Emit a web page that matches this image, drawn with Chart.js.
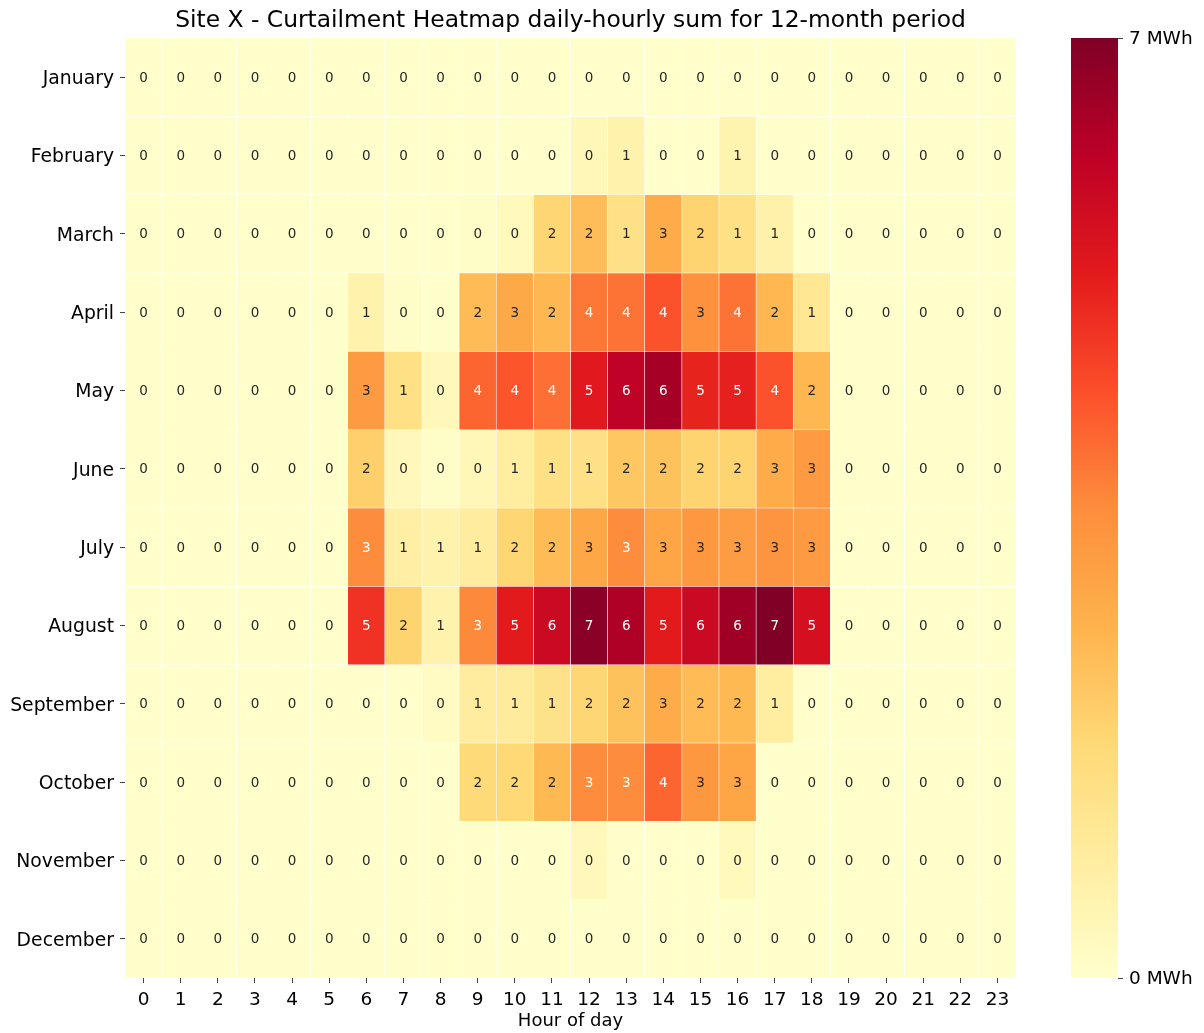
<!DOCTYPE html>
<html>
<head>
<meta charset="utf-8">
<script src="https://cdn.jsdelivr.net/npm/chart.js@4.4.1/dist/chart.umd.min.js"></script>
<style>
  html, body { margin: 0; padding: 0; background: #ffffff; }
  #wrap { position: relative; width: 1204px; height: 1033px; }
  #heat { position: absolute; left: 0; top: 0; }
  #cbar { position: absolute; left: 1040px; top: 0; }
</style>
</head>
<body>
<div id="wrap">
  <canvas id="heat" width="1204" height="1033"></canvas>
  <canvas id="cbar" width="164" height="1033"></canvas>
</div>
<script>
// ---------------- DATA ----------------
const TITLE = 'Site X - Curtailment Heatmap daily-hourly sum for 12-month period';
const X_TITLE = 'Hour of day';
const hours = ['0','1','2','3','4','5','6','7','8','9','10','11','12','13','14','15','16','17','18','19','20','21','22','23'];
const months = ['January','February','March','April','May','June','July','August','September','October','November','December'];
const UNIT = 'MWh';
const vmin = 0;
const vmax = 6.8;

const january   = [0,0,0,0,0,0, 0,0,0,0,0,0,0,0,0,0,0,0,0, 0,0,0,0,0];
const february  = [0,0,0,0,0,0, 0,0,0,0,0,0,0.4,0.6,0,0,0.55,0,0, 0,0,0,0,0];
const march     = [0,0,0,0,0,0, 0,0,0,0.1,0.3,1.75,2.3,1.35,2.7,1.8,1.4,0.65,0, 0,0,0,0,0];
const april     = [0,0,0,0,0,0, 0.6,0.1,0,2.35,2.75,2.45,3.7,3.75,4.2,3.3,3.75,2.45,1.1, 0,0,0,0,0];
const may       = [0,0,0,0,0,0, 3.1,1.4,0.35,3.95,4.15,3.8,5.15,5.9,6.25,4.95,5.0,4.2,2.45, 0,0,0,0,0];
const june      = [0,0,0,0,0,0, 1.9,0.35,0.1,0.4,0.85,1.4,1.35,2.1,2.2,1.8,1.8,2.7,3.1, 0,0,0,0,0];
const july      = [0,0,0,0,0,0, 3.4,0.75,0.6,0.9,1.75,2.35,2.8,3.42,2.85,3.15,3.05,3.25,3.1, 0,0,0,0,0];
const august    = [0,0,0,0,0,0, 4.7,1.8,0.6,3.45,5.1,5.65,6.65,6.15,5.1,5.65,6.35,6.8,5.45, 0,0,0,0,0];
const september = [0,0,0,0,0,0, 0,0,0.2,0.9,0.95,1.3,1.75,2.2,2.7,2.35,2.4,0.85,0, 0,0,0,0,0];
const october   = [0,0,0,0,0,0, 0,0,0,1.65,1.7,2.4,3.42,3.4,3.95,3.15,2.85,0,0, 0,0,0,0,0];
const november  = [0,0,0,0,0,0, 0,0,0,0,0,0,0.35,0,0,0,0.3,0,0, 0,0,0,0,0];
const december  = [0,0,0,0,0,0, 0,0,0,0,0,0,0,0,0,0,0,0,0, 0,0,0,0,0];
const rows = [january,february,march,april,may,june,july,august,september,october,november,december];

// ---------------- COLORMAP (YlOrRd) ----------------
const stops = [[255,255,204],[255,237,160],[254,217,118],[254,178,76],[253,141,60],[252,78,42],[227,26,28],[189,0,38],[128,0,38]];
function cmapRGB(t) {
  t = Math.max(0, Math.min(1, t));
  const p = t * (stops.length - 1);
  const i = Math.min(Math.floor(p), stops.length - 2);
  const f = p - i;
  const a = stops[i], b = stops[i + 1];
  return [0,1,2].map(k => a[k] + (b[k] - a[k]) * f);
}
function cmap(t) { const c = cmapRGB(t); return `rgb(${c[0].toFixed(0)},${c[1].toFixed(0)},${c[2].toFixed(0)})`; }
function lum(c) {
  const l = c.map(v => { v /= 255; return v <= 0.03928 ? v / 12.92 : Math.pow((v + 0.055) / 1.055, 2.4); });
  return 0.2126 * l[0] + 0.7152 * l[1] + 0.0722 * l[2];
}
const norm = v => (v - vmin) / (vmax - vmin);

const FONT = "'DejaVu Sans', sans-serif";
const TICK_COLOR = '#444';

// ---------------- HEATMAP ----------------
const datasets = rows.map((vals, m) => ({
  label: months[m],
  data: vals.map(() => [m, m + 1]),
  values: vals,
  backgroundColor: ctx => cmap(norm(vals[ctx.dataIndex])),
  borderColor: 'rgba(255,255,255,0.55)',
  borderWidth: 0.6,
  borderSkipped: false,
  grouped: false,
  barPercentage: 1,
  categoryPercentage: 1
}));

const annotate = {
  id: 'annotate',
  afterDatasetsDraw(chart) {
    const ctx = chart.ctx;
    ctx.save();
    ctx.font = `13.5px ${FONT}`;
    ctx.textAlign = 'center';
    ctx.textBaseline = 'middle';
    chart.data.datasets.forEach((ds, di) => {
      const meta = chart.getDatasetMeta(di);
      meta.data.forEach((el, i) => {
        const v = ds.values[i];
        const c = cmapRGB(norm(v));
        ctx.fillStyle = lum(c) > 0.408 ? '#262626' : '#ffffff';
        ctx.fillText(String(Math.round(v)), el.x, (el.y + el.base) / 2 + 1);
      });
    });
    ctx.restore();
  }
};

const titlePlugin = {
  id: 'titleText',
  afterDraw(chart) {
    const ctx = chart.ctx, a = chart.chartArea;
    ctx.save();
    ctx.font = `23.4px ${FONT}`;
    ctx.fillStyle = '#000';
    ctx.textAlign = 'center';
    ctx.textBaseline = 'middle';
    ctx.fillText(TITLE, (a.left + a.right) / 2, 21);
    ctx.restore();
  }
};

new Chart(document.getElementById('heat'), {
  type: 'bar',
  data: { labels: hours, datasets },
  options: {
    responsive: false,
    animation: false,
    devicePixelRatio: 1,
    layout: { padding: { left: 0, right: 188, top: 38, bottom: 0 } },
    plugins: { legend: { display: false }, tooltip: { enabled: false }, title: { display: false } },
    scales: {
      x: {
        type: 'category',
        offset: true,
        grid: { display: true, offset: false, drawOnChartArea: false, drawTicks: true, tickLength: 5, color: TICK_COLOR, lineWidth: 1 },
        border: { display: false },
        ticks: { color: '#000', font: { family: FONT, size: 18.5 }, maxRotation: 0, autoSkip: false, padding: 6 },
        title: { display: true, text: X_TITLE, color: '#000', font: { family: FONT, size: 18 }, padding: { top: 0, bottom: 1 } },
        afterFit: s => { s.height = 55; }
      },
      y: {
        type: 'linear',
        min: 0, max: months.length,
        reverse: true,
        afterBuildTicks: s => { s.ticks = months.map((_, i) => ({ value: i + 0.5 })); },
        grid: { display: true, drawOnChartArea: false, drawTicks: true, tickLength: 5, color: TICK_COLOR, lineWidth: 1 },
        border: { display: false },
        ticks: { color: '#000', font: { family: FONT, size: 18.8 }, autoSkip: false, padding: 6, labelOffset: 2,
                 callback: (v, i) => months[i] },
        afterFit: s => { s.width = 125; }
      }
    }
  },
  plugins: [annotate, titlePlugin]
});

// ---------------- COLORBAR ----------------
new Chart(document.getElementById('cbar'), {
  type: 'bar',
  data: {
    labels: [''],
    datasets: [{
      data: [[vmin, vmax]],
      backgroundColor: ctx => {
        const a = ctx.chart.chartArea;
        if (!a) return cmap(0.5);
        const g = ctx.chart.ctx.createLinearGradient(0, a.bottom, 0, a.top);
        stops.forEach((c, i) => g.addColorStop(i / (stops.length - 1), `rgb(${c[0]},${c[1]},${c[2]})`));
        return g;
      },
      borderWidth: 0,
      barPercentage: 1,
      categoryPercentage: 1
    }]
  },
  options: {
    responsive: false,
    animation: false,
    devicePixelRatio: 1,
    layout: { padding: { left: 31, right: 0, top: 38, bottom: 55 } },
    plugins: { legend: { display: false }, tooltip: { enabled: false } },
    scales: {
      x: { display: false },
      y: {
        position: 'right',
        min: vmin, max: vmax,
        afterBuildTicks: s => { s.ticks = [{ value: vmin }, { value: vmax }]; },
        grid: { display: true, drawOnChartArea: false, drawTicks: true, tickLength: 5, color: TICK_COLOR },
        border: { display: false },
        ticks: { color: '#000', font: { family: FONT, size: 18.5 }, padding: 6, labelOffset: 1,
                 callback: v => Math.round(v) + ' ' + UNIT },
        afterFit: s => { s.width = 86; }
      }
    }
  }
});
</script>
</body>
</html>
